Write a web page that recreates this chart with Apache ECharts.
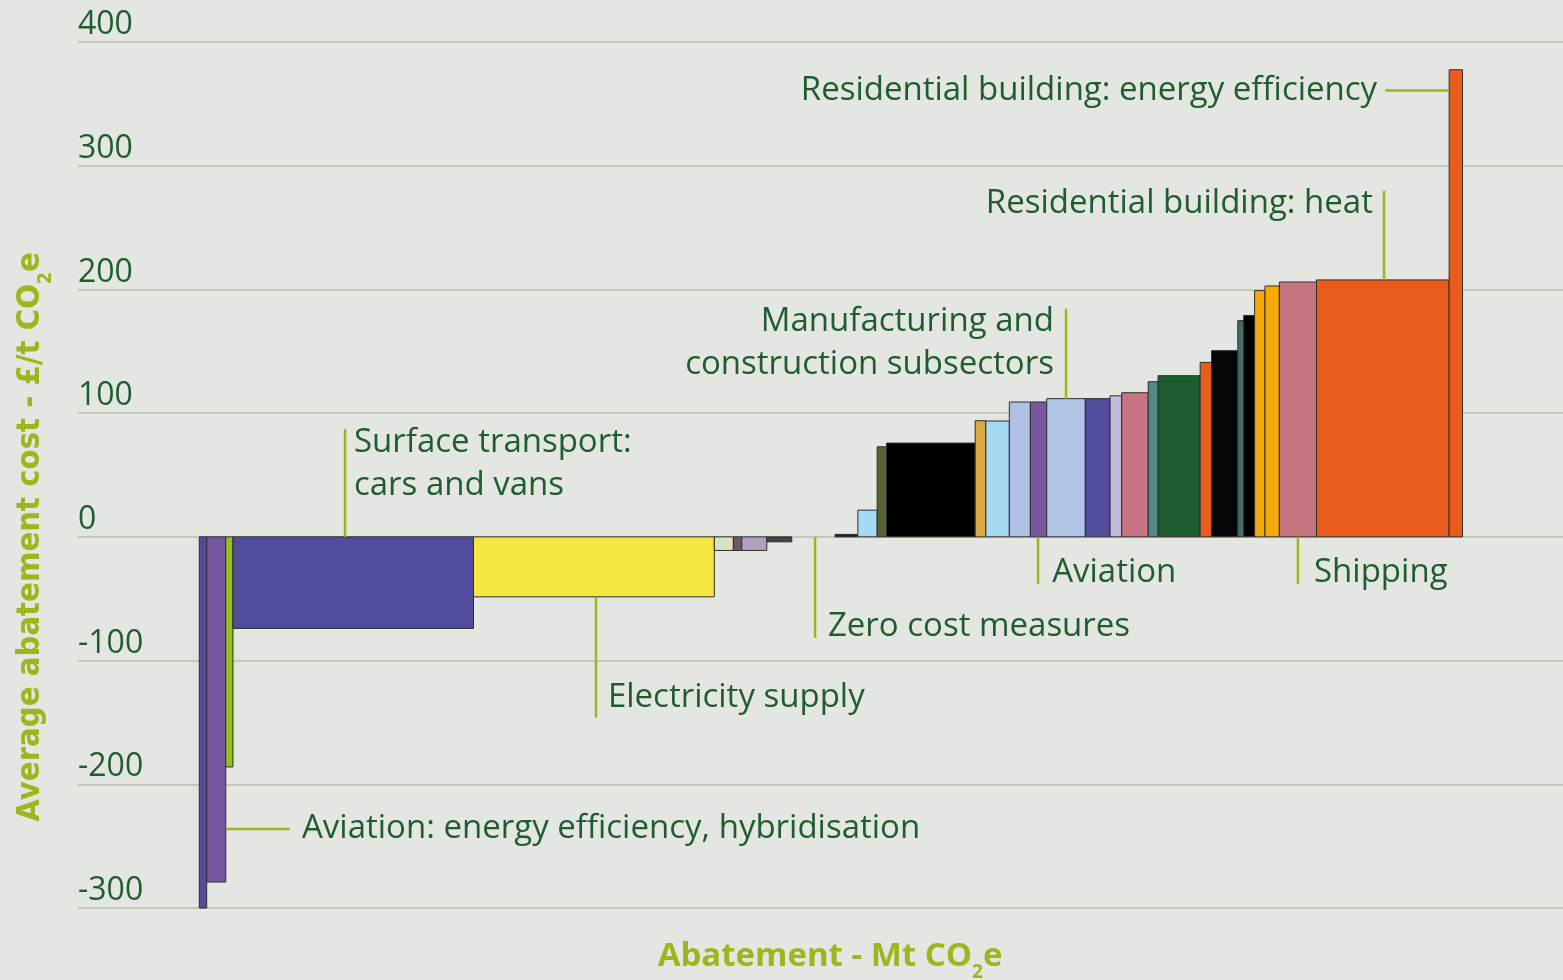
<!DOCTYPE html>
<html>
<head>
<meta charset="utf-8">
<script src="https://cdn.jsdelivr.net/npm/echarts@6/dist/echarts.min.js"></script>
<style>
  html, body { margin: 0; padding: 0; background: #e4e6e1; }
  #chart { width: 1563px; height: 980px; }
</style>
</head>
<body>
<div id="chart"></div>
<script>
// abatement (Mt CO2e) per measure, left to right
const widths = [3.0, 7.7, 2.9, 97.2, 97.3, 7.7, 3.4, 10.1, 10.1, 17.5, 9.2, 7.8, 3.8, 35.8, 4.3, 9.5,
  8.5, 6.6, 15.6, 10.0, 4.7, 10.7, 4.0, 17.0, 4.6, 10.6, 2.4, 4.4, 4.2, 5.8, 15.0, 53.6, 5.4];
// average abatement cost (£/t CO2e)
const costs = [-300, -279, -186, -74, -48.5, -11, -11, -11, -4, 0, 2, 21.6, 72.8, 75.8, 93.9, 93.6,
  109, 109, 111.7, 111.7, 114, 116.5, 125.4, 130.3, 141, 150.5, 174.8, 179, 199, 202.8, 206, 207.7, 377.6];
const barColors = ['#524c9c', '#7657a0', '#95c11f', '#524c9c', '#f5e642', '#d5e3c0', '#6b5a66', '#b0a0c0',
  '#444448', 'none', '#222222', '#a6daf0', '#556330', '#000000', '#dcaa40', '#a6daf0', '#b0c0e4', '#7657a0',
  '#b0c4e6', '#524c9c', '#c0bcdc', '#c87484', '#4f8a88', '#1c5c30', '#ea5c1e', '#040608', '#466a68',
  '#000000', '#f6aa0a', '#f6aa0a', '#c87480', '#ea5c1e', '#ea5c1e'];

// callouts: leader line (data coords) + text anchor
const labels = [
  { text: 'Residential building: energy efficiency', line: [[479.1, 360.7], [505, 360.7]], at: [475.9, 360.7], align: 'right' },
  { text: 'Residential building: heat', line: [[478.7, 279.8], [478.7, 207.7]], at: [474.2, 269.3], align: 'right' },
  { text: 'Manufacturing and\nconstruction subsectors', line: [[350.2, 184.4], [350.2, 111.7]], at: [345.3, 156.9], align: 'right' },
  { text: 'Surface transport:\ncars and vans', line: [[58.9, 87.3], [58.9, 0]], at: [62.5, 58.6], align: 'left' },
  { text: 'Aviation', line: [[338.9, 0], [338.9, -38]], at: [344.6, -29.1], align: 'left' },
  { text: 'Shipping', line: [[443.9, 0], [443.9, -38]], at: [450.4, -29.1], align: 'left' },
  { text: 'Zero cost measures', line: [[248.8, 0], [248.8, -81.7]], at: [254, -72.8], align: 'left' },
  { text: 'Electricity supply', line: [[160.3, -48.5], [160.3, -146.2]], at: [165.1, -130.2], align: 'left' },
  { text: 'Aviation: energy efficiency, hybridisation', line: [[10.8, -236.1], [36.6, -236.1]], at: [41.5, -236.1], align: 'left' }
];

const green = '#9ab81e';
const textGreen = '#1f5c32';
const condensed = "'DejaVu Sans Condensed', 'Liberation Sans Narrow', 'Roboto', sans-serif";

let acc = 0;
const barData = widths.map((w, i) => {
  const row = [acc, acc + w, costs[i]];
  acc += w;
  return row;
});

const chart = echarts.init(document.getElementById('chart'));

const option = {
  backgroundColor: '#e4e6e1',
  animation: false,
  grid: { left: 78, right: 0, top: 42, bottom: 72 },
  xAxis: {
    type: 'value', min: -49, max: 551,
    axisLine: { show: false }, axisTick: { show: false }, axisLabel: { show: false }, splitLine: { show: false }
  },
  yAxis: {
    type: 'value', min: -300, max: 400, interval: 100,
    axisLine: { show: false }, axisTick: { show: false },
    splitLine: { lineStyle: { color: '#b6bfac', width: 1.5 } },
    axisLabel: {
      inside: true, margin: 0, verticalAlign: 'bottom', padding: [0, 0, 1, 0],
      color: textGreen, fontFamily: 'Open Sans', fontSize: 32
    }
  },
  series: [
    {
      type: 'custom',
      data: barData,
      encode: { x: [0, 1], y: 2 },
      renderItem: (params, api) => {
        const p0 = api.coord([api.value(0), 0]);
        const p1 = api.coord([api.value(1), api.value(2)]);
        const c = barColors[params.dataIndex];
        if (c === 'none') return null;
        return {
          type: 'rect',
          shape: { x: p0[0], y: Math.min(p0[1], p1[1]), width: p1[0] - p0[0], height: Math.abs(p1[1] - p0[1]) },
          style: { fill: c, stroke: '#2e2e2e', lineWidth: 1 }
        };
      }
    },
    {
      type: 'custom',
      data: labels.map(l => l.at),
      encode: { x: 0, y: 1 },
      clip: false,
      renderItem: (params, api) => {
        const l = labels[params.dataIndex];
        const a = api.coord(l.line[0]);
        const b = api.coord(l.line[1]);
        const t = api.coord(l.at);
        return {
          type: 'group',
          children: [
            { type: 'line', shape: { x1: a[0], y1: a[1], x2: b[0], y2: b[1] }, style: { stroke: green, lineWidth: 2.5 } },
            {
              type: 'text',
              style: {
                text: l.text, x: t[0], y: t[1], align: l.align, verticalAlign: 'middle',
                fill: textGreen, fontFamily: 'Open Sans', fontSize: 33, lineHeight: 43
              }
            }
          ]
        };
      }
    }
  ],
  graphic: [
    {
      type: 'text', x: 830, y: 957,
      style: {
        text: '{a|Abatement - Mt CO}{s|2}{a|e}',
        align: 'center', verticalAlign: 'middle',
        rich: {
          a: { fontFamily: 'Open Sans', fontWeight: 'bold', fontSize: 33, fill: green, lineHeight: 40 },
          s: { fontFamily: 'Open Sans', fontWeight: 'bold', fontSize: 19, fill: green, lineHeight: 40, verticalAlign: 'bottom', padding: [0, 0, -5, 0] }
        }
      }
    },
    {
      type: 'text', x: 31, y: 537, rotation: Math.PI / 2,
      style: {
        text: '{a|Average abatement cost - £/t CO}{s|2}{a|e}',
        align: 'center', verticalAlign: 'middle',
        rich: {
          a: { fontFamily: condensed, fontWeight: 'bold', fontSize: 32.5, fill: green, lineHeight: 40 },
          s: { fontFamily: condensed, fontWeight: 'bold', fontSize: 19, fill: green, lineHeight: 40, verticalAlign: 'bottom', padding: [0, 0, -5, 0] }
        }
      }
    }
  ]
};

chart.setOption(option);
</script>
</body>
</html>
